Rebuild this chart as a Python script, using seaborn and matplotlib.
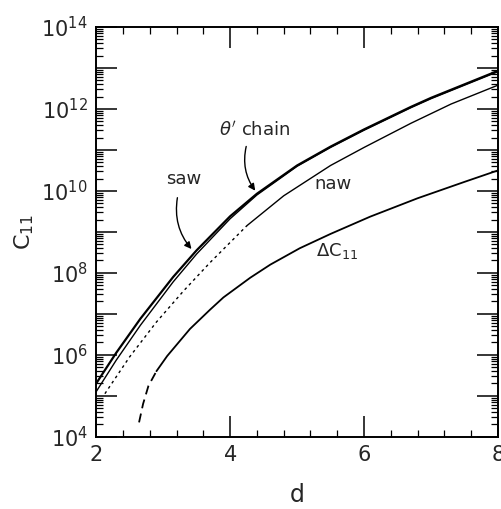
import numpy as np
import pandas as pd
import matplotlib
matplotlib.use("Agg")
import matplotlib.pyplot as plt
from matplotlib.ticker import LogLocator, MultipleLocator, NullFormatter, FuncFormatter
import seaborn as sns

# Series: dimension d versus log10 of the coefficient C11
theta_d = [2.0, 2.3, 2.66, 3.15, 3.5, 4.0, 4.4, 5.0, 5.5, 6.0, 6.7, 7.0, 7.5, 8.0]
theta_log = [5.3, 6.05, 6.88, 7.9, 8.55, 9.38, 9.93, 10.62, 11.08, 11.5, 12.05, 12.27, 12.6, 12.93]

saw_d = [2.0, 2.3, 2.66, 3.15, 3.5, 4.0, 4.4, 5.0, 5.5, 6.0, 6.7, 7.0, 7.5, 8.0]
saw_log = [5.1, 5.87, 6.72, 7.78, 8.46, 9.32, 9.9, 10.6, 11.06, 11.48, 12.03, 12.25, 12.58, 12.91]

# naw: dotted where extrapolated, solid beyond
naw_d = [2.13, 2.5, 2.9, 3.3, 3.7, 4.25, 4.8, 5.5, 6.0, 6.7, 7.3, 8.0]
naw_log = [5.05, 5.95, 6.8, 7.55, 8.25, 9.15, 9.88, 10.62, 11.06, 11.65, 12.12, 12.58]
naw_solid_from = 4.25

# Delta C11: dashed where extrapolated, solid beyond
dc_d = [2.64, 2.7, 2.78, 2.9, 3.06, 3.4, 3.7, 3.9, 4.3, 4.6, 5.04, 5.5, 6.09, 6.8, 7.5, 8.0]
dc_log = [4.35, 4.8, 5.24, 5.6, 5.97, 6.63, 7.1, 7.4, 7.88, 8.2, 8.6, 8.95, 9.37, 9.82, 10.22, 10.5]
dc_solid_from = 2.9

sns.set_style("ticks")
plt.rcParams["font.family"] = ["DejaVu Sans"]
plt.rcParams["mathtext.fontset"] = "dejavusans"

fig = plt.figure(figsize=(5.01, 5.09), dpi=100)
ax = fig.add_axes([0.192, 0.142, 0.802, 0.805])


def frame(d, logc):
    d = np.asarray(d, float)
    return pd.DataFrame({"d": d, "C": 10 ** np.asarray(logc, float)})


def split(d, logc, at):
    d = np.asarray(d)
    logc = np.asarray(logc)
    lo = d <= at
    hi = d >= at
    return frame(d[lo], logc[lo]), frame(d[hi], logc[hi])


kw = dict(x="d", y="C", color="black", ax=ax, estimator=None, sort=False)

sns.lineplot(data=frame(saw_d, saw_log), lw=1.0, **kw)
sns.lineplot(data=frame(theta_d, theta_log), lw=1.6, **kw)

naw_dot, naw_sol = split(naw_d, naw_log, naw_solid_from)
sns.lineplot(data=naw_dot, lw=1.0, linestyle=(0, (2, 2.5)), **kw)
sns.lineplot(data=naw_sol, lw=1.0, **kw)

dc_dash, dc_sol = split(dc_d, dc_log, dc_solid_from)
sns.lineplot(data=dc_dash, lw=1.3, linestyle=(0, (5, 3)), **kw)
sns.lineplot(data=dc_sol, lw=1.3, **kw)

ax.set_yscale("log")
ax.set_xlim(2, 8)
ax.set_ylim(1e4, 1e14)

# Ticks on all four sides, pointing inward
ax.xaxis.set_major_locator(MultipleLocator(2))
ax.xaxis.set_minor_locator(MultipleLocator(0.4))
ax.yaxis.set_major_locator(LogLocator(base=10, numticks=20))
ax.yaxis.set_minor_locator(LogLocator(base=10, subs=np.arange(2, 10), numticks=100))
ax.yaxis.set_minor_formatter(NullFormatter())


def decade_label(v, pos):
    e = int(round(np.log10(v)))
    return rf"$10^{{{e}}}$" if e % 2 == 0 else ""


ax.yaxis.set_major_formatter(FuncFormatter(decade_label))
ax.tick_params(which="both", direction="in", top=True, right=True, color="black")
ax.tick_params(which="major", length=15, width=1.1, labelsize=15, pad=6)
ax.tick_params(which="minor", length=5, width=0.9)
for s in ax.spines.values():
    s.set_linewidth(1.4)
    s.set_color("black")

ax.set_xlabel("d", fontsize=17, labelpad=13)
ax.set_ylabel(r"C$_{11}$", fontsize=16, labelpad=4)

# Curve labels with arrows
ax.text(3.3, 10 ** 10.28, "saw", fontsize=13, ha="center", va="center")
ax.annotate("", xy=(3.45, 10 ** 8.53), xytext=(3.22, 10 ** 9.9),
            arrowprops=dict(arrowstyle="-|>", color="black", lw=1.0,
                            connectionstyle="arc3,rad=0.25", mutation_scale=10))
ax.text(4.37, 10 ** 11.49, r"$\theta'$ chain", fontsize=13, ha="center", va="center")
ax.annotate("", xy=(4.4, 10 ** 9.95), xytext=(4.25, 10 ** 11.15),
            arrowprops=dict(arrowstyle="-|>", color="black", lw=1.0,
                            connectionstyle="arc3,rad=0.25", mutation_scale=10))
ax.text(5.54, 10 ** 10.16, "naw", fontsize=13, ha="center", va="center")
ax.text(5.6, 10 ** 8.53, r"$\Delta$C$_{11}$", fontsize=13, ha="center", va="center")

fig.savefig("out.png", dpi=100)
